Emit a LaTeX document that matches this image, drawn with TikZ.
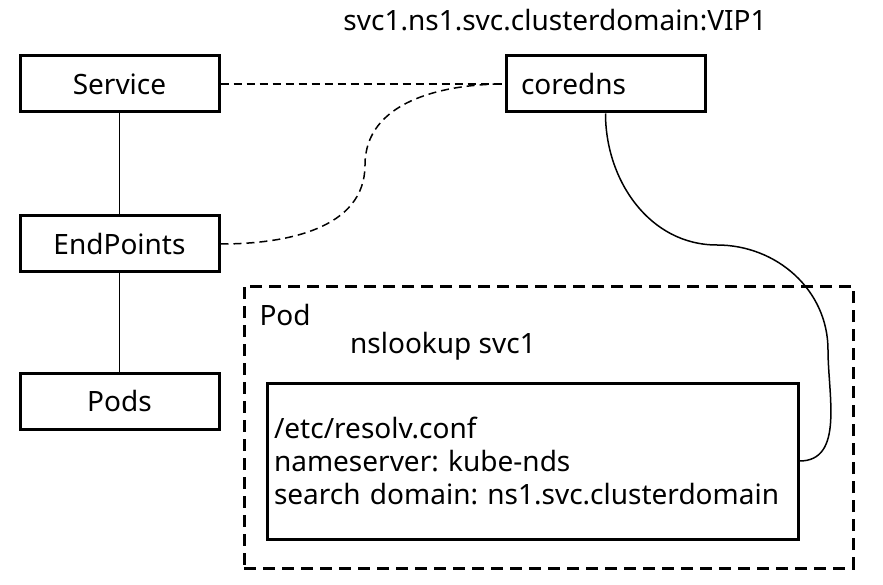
\documentclass[tikz,border=0pt]{standalone}
\usepackage{fontspec}
\setmainfont{Noto Sans}
\usepackage{tikz}
\usetikzlibrary{positioning}

\begin{document}
\frenchspacing
\begin{tikzpicture}[x=1pt, y=-1pt, font=\fontsize{28}{33}\selectfont]
    \tikzstyle{obj}=[draw, line width=3pt, minimum width=199pt, minimum height=56pt, inner sep=0pt]
    \tikzstyle{link}=[line width=1.5pt]
    \tikzstyle{lookup}=[line width=1.5pt, dash pattern=on 8pt off 5pt]
    \useasboundingbox (0,0) rectangle (883,585);
    \node [obj] (service) at (119.5,84) {Service};
    \node [obj, below=101pt of service] (endpoints) {EndPoints};
    \node [obj, below=98pt of endpoints] (pods) {Pods};
    \node [obj, text width=169pt, inner xsep=15pt, align=left] (coredns) at (605.5,84) {coredns};
    \node (record) at (555,20) {svc1.ns1.svc.clusterdomain:VIP1};
    \node [draw, line width=3pt, dash pattern=on 12pt off 7pt, minimum width=609pt, minimum height=282pt, inner sep=0pt] (pod) at (548.5,427) {};
    \node [anchor=west] (podname) at (256,315) {Pod};
    \node (nslookup) at (443,346) {nslookup svc1};
    \node [draw, line width=3pt, minimum width=531pt, minimum height=156pt, text width=517pt, inner xsep=7pt, align=left] (resolv) at (532.5,461) {/etc/resolv.conf\\nameserver: kube-nds\\search domain: ns1.svc.clusterdomain};
    \draw [link] (service) -- (endpoints);
    \draw [link] (endpoints) -- (pods);
    \draw [lookup] (service) -- (coredns);
    \draw [lookup] (endpoints.east) to[out=0, in=-90] (365,165) to[out=90, in=180] (coredns.west);
    \draw [link] (coredns.south) to[out=-90, in=180] (717,245) to[out=0, in=90] (828,350) to[out=-90, in=0] (resolv.east);
  \end{tikzpicture}
\end{document}
